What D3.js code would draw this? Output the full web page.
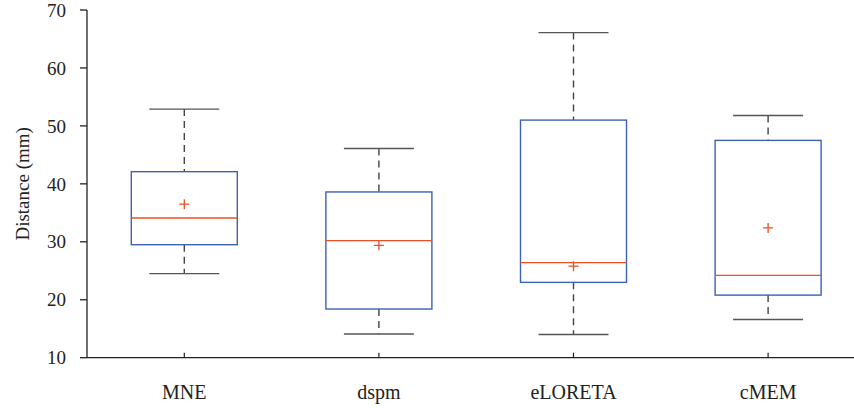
<!DOCTYPE html>
<html>
<head>
<meta charset="utf-8">
<script src="https://cdn.jsdelivr.net/npm/d3@7"></script>
<style>
  body { margin: 0; background: #fff; }
  text { font-family: "Liberation Serif", "DejaVu Serif", serif; fill: #222; }
</style>
</head>
<body>
<div id="viz"></div>
<script>
var methods = ["MNE", "dspm", "eLORETA", "cMEM"];
var whiskerLow = [24.5, 14.1, 14.0, 16.6];
var q1 = [29.5, 18.4, 23.0, 20.8];
var median = [34.1, 30.2, 26.4, 24.2];
var q3 = [42.1, 38.6, 51.0, 47.5];
var whiskerHigh = [52.9, 46.1, 66.1, 51.8];
var means = [36.5, 29.4, 25.8, 32.4];
var yTicks = [10, 20, 30, 40, 50, 60, 70];

var W = 854, H = 408;
var margin = { top: 10, left: 87, bottom: 51 };

var data = methods.map(function (m, i) {
  return { name: m, lo: whiskerLow[i], q1: q1[i], med: median[i], q3: q3[i], hi: whiskerHigh[i], mean: means[i] };
});

var svg = d3.select("#viz").append("svg").attr("width", W).attr("height", H);

var x = d3.scalePoint().domain(methods).range([margin.left, margin.left + 4 * 194.6]).padding(0.5);
var y = d3.scaleLinear().domain([10, 70]).range([H - margin.bottom + 0.7, margin.top]);

var boxW = 106, capW = 70;

// axes
svg.append("line")
  .attr("x1", margin.left).attr("x2", W)
  .attr("y1", y(10)).attr("y2", y(10))
  .attr("stroke", "#222").attr("stroke-width", 1.3);
svg.append("line")
  .attr("x1", margin.left).attr("x2", margin.left)
  .attr("y1", y(10)).attr("y2", y(70))
  .attr("stroke", "#222").attr("stroke-width", 1.3);

svg.selectAll(".ytick").data(yTicks).enter().append("line")
  .attr("x1", margin.left - 7).attr("x2", margin.left)
  .attr("y1", function (d) { return y(d); }).attr("y2", function (d) { return y(d); })
  .attr("stroke", "#222").attr("stroke-width", 1.3);
svg.selectAll(".ylab").data(yTicks).enter().append("text")
  .attr("x", margin.left - 21)
  .attr("y", function (d) { return y(d); })
  .attr("dy", "0.35em")
  .attr("text-anchor", "end")
  .style("font-size", "19px")
  .text(function (d) { return d; });

svg.selectAll(".xtick").data(methods).enter().append("line")
  .attr("x1", function (d) { return x(d); }).attr("x2", function (d) { return x(d); })
  .attr("y1", y(10)).attr("y2", y(10) - 5)
  .attr("stroke", "#222").attr("stroke-width", 1.2);
svg.selectAll(".xlab").data(methods).enter().append("text")
  .attr("x", function (d) { return x(d); })
  .attr("y", y(10) + 41)
  .attr("text-anchor", "middle")
  .style("font-size", "20px")
  .text(function (d) { return d; });

svg.append("text")
  .attr("transform", "translate(29," + (y(40)) + ") rotate(-90)")
  .attr("text-anchor", "middle")
  .style("font-size", "19px")
  .text("Distance (mm)");

// boxes
var g = svg.selectAll(".box").data(data).enter().append("g");

g.append("line")
  .attr("x1", function (d) { return x(d.name); }).attr("x2", function (d) { return x(d.name); })
  .attr("y1", function (d) { return y(d.hi); }).attr("y2", function (d) { return y(d.q3); })
  .attr("stroke", "#444").attr("stroke-width", 1.4).attr("stroke-dasharray", "7,5");
g.append("line")
  .attr("x1", function (d) { return x(d.name); }).attr("x2", function (d) { return x(d.name); })
  .attr("y1", function (d) { return y(d.q1); }).attr("y2", function (d) { return y(d.lo); })
  .attr("stroke", "#444").attr("stroke-width", 1.4).attr("stroke-dasharray", "7,5");

["hi", "lo"].forEach(function (k) {
  g.append("line")
    .attr("x1", function (d) { return x(d.name) - capW / 2; })
    .attr("x2", function (d) { return x(d.name) + capW / 2; })
    .attr("y1", function (d) { return y(d[k]); }).attr("y2", function (d) { return y(d[k]); })
    .attr("stroke", "#555").attr("stroke-width", 1.4);
});

g.append("rect")
  .attr("x", function (d) { return x(d.name) - boxW / 2; })
  .attr("width", boxW)
  .attr("y", function (d) { return y(d.q3); })
  .attr("height", function (d) { return y(d.q1) - y(d.q3); })
  .attr("fill", "none").attr("stroke", "#3d62b3").attr("stroke-width", 1.4);

g.append("line")
  .attr("x1", function (d) { return x(d.name) - boxW / 2; })
  .attr("x2", function (d) { return x(d.name) + boxW / 2; })
  .attr("y1", function (d) { return y(d.med); }).attr("y2", function (d) { return y(d.med); })
  .attr("stroke", "#ea4f23").attr("stroke-width", 1.4);

g.append("path")
  .attr("d", function (d) {
    var cx = x(d.name), cy = y(d.mean);
    return "M" + (cx - 5) + "," + cy + "H" + (cx + 5) + "M" + cx + "," + (cy - 5) + "V" + (cy + 5);
  })
  .attr("stroke", "#ea4f23").attr("stroke-width", 1.3).attr("fill", "none");
</script>
</body>
</html>
